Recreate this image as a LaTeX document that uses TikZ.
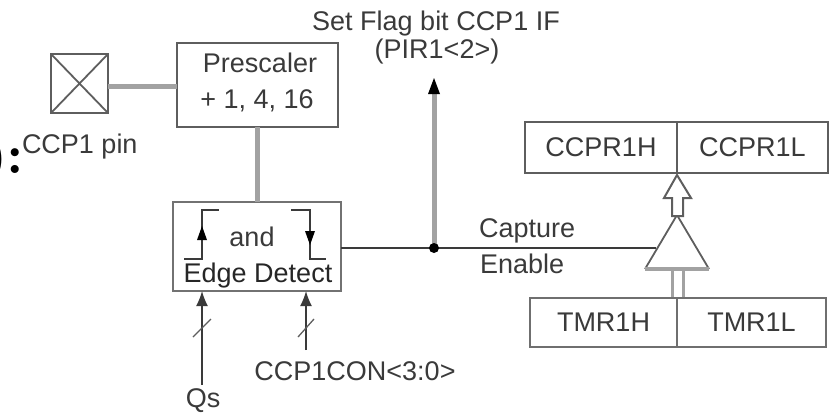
\documentclass[tikz,border=0pt]{standalone}
\usepackage{fontspec}
\setmainfont{Liberation Sans}
\usetikzlibrary{arrows.meta,calc}
\definecolor{frame}{HTML}{5E5E5E}
\definecolor{bus}{HTML}{A2A2A2}
\definecolor{ink}{HTML}{3A3A3A}
\tikzset{
  lbl/.style={text=ink,font=\fontsize{27}{27}\selectfont,inner sep=0pt,outer sep=0pt},
  blbl/.style={lbl,anchor=base},
  boxn/.style={draw=frame,line width=2.6pt,fill=white,inner sep=0pt,outer sep=0pt,anchor=north west},
  regn/.style={boxn,lbl,line width=2.4pt},
  thick bus/.style={draw=bus,line width=5pt},
  thin wire/.style={draw=ink,line width=1.5pt},
  blacktip/.style={-{Latex[length=15pt,width=12pt]}}
}
\begin{document}
\begin{tikzpicture}[x=1pt,y=-1pt]
\useasboundingbox (0,0) rectangle (829,412);
\begin{scope}
\clip (0,0) rectangle (829,412);
\node[anchor=base east,inner sep=0pt,font=\usefont{TU}{lmr}{bx}{n}\fontsize{56}{56}\selectfont] (junk) at (24,173.5) {)\kern-2pt:};
\end{scope}
% pin
\node[boxn,minimum width=57pt,minimum height=59pt] (pin) at (51,54) {};
\draw[frame,line width=1.8pt] (pin.north west) -- (pin.south east) (pin.north east) -- (pin.south west);
\node[lbl,anchor=base west] (pinl) at (22,153) {CCP1 pin};
% prescaler
\node[boxn,minimum width=161pt,minimum height=84pt] (pre) at (177,43) {};
\node[blbl] (pre1) at (260,73) {Prescaler};
\node[blbl] (pre2) at (257,108) {+ 1, 4, 16};
% edge detect
\node[boxn,minimum width=168pt,minimum height=89pt,draw=frame!70!bus] (edge) at (173,202) {};
\node[blbl] (and) at (252,246) {and};
\node[blbl,text=black!85] (ed) at (258,282) {Edge Detect};
% gray buses
\draw[thick bus] (pin.east |- 0,86) -- (pre.west |- 0,86);
\draw[thick bus] (257,0 |- pre.south) -- (257,0 |- edge.north);
% edge symbols
\coordinate (la) at (184,259); \coordinate (lb) at (202,259); \coordinate (lc) at (202,210); \coordinate (ld) at (219,210);
\coordinate (ra) at (291,210); \coordinate (rb) at (310,210); \coordinate (rc) at (310,259); \coordinate (rd) at (326,259);
\draw[thin wire] (la) -- (lb) -- (lc) -- (ld);
\draw[thin wire] (ra) -- (rb) -- (rc) -- (rd);
\fill[black] (202,226) -- (207,240) -- (197,240) -- cycle;
\fill[black] (310,245) -- (305,231) -- (315,231) -- cycle;
% bottom inputs
\node[blbl] (qs) at (203,407) {Qs};
\node[blbl] (ccon) at (355,380) {CCP1CON<3:0>};
\coordinate (qsin) at (202,291); \coordinate (qsout) at (202,385);
\coordinate (conin) at (306,291); \coordinate (conout) at (306,350);
\draw[thin wire,blacktip] (qsout) -- (qsin);
\draw[thin wire,blacktip] (conout) -- (conin);
\draw[frame,line width=1.3pt] (193,337) -- (211,319);
\draw[frame,line width=1.3pt] (298,337) -- (314,319);
% flag
\node[blbl] (flag1) at (436,31) {Set Flag bit CCP1 IF};
\node[blbl] (flag2) at (437,59) {(PIR1<2>)};
\coordinate (dot) at (434,248);
\coordinate (flagtip) at (434,78);
\draw[thick bus] (dot) -- (434,92);
\fill[black] (flagtip) -- (440,94) -- (428,94) -- cycle;
% registers
\node[regn,minimum width=152pt,minimum height=51pt] (cch) at (525,122) {CCPR1H};
\node[regn,minimum width=151pt,minimum height=51pt] (ccl) at (677,122) {CCPR1L};
\node[regn,minimum width=147pt,minimum height=49pt,draw=frame!75!bus] (tmh) at (530,298) {TMR1H};
\node[regn,minimum width=149pt,minimum height=49pt,draw=frame!75!bus] (tml) at (677,298) {TMR1L};
% triangle
\coordinate (apex) at (677,215); \coordinate (bl) at (645,269); \coordinate (br) at (709,269);
\draw[frame,line width=1.8pt] (apex) -- (bl);
\draw[frame,line width=1.8pt] (apex) -- (br);
\draw[bus,line width=3.5pt] (bl) -- (br);
% wire
\coordinate (wireend) at (656,248);
\draw[thin wire] (edge.east |- dot) -- (wireend);
\fill[black] (dot) circle (5pt);
\node[lbl,anchor=base west] (cap) at (479,237) {Capture};
\node[lbl,anchor=base west] (en) at (480,273) {Enable};
% hollow arrow
\draw[frame,line width=2pt,fill=white,line join=miter] (677,175) -- (691,198) -- (683,198) -- (683,216) -- (672,216) -- (672,198) -- (664,198) -- cycle;
% double line
\draw[bus,line width=3pt] (672.5,271) -- (672.5,297);
\draw[bus,line width=3pt] (683,271) -- (683,297);
\end{tikzpicture}
\end{document}
